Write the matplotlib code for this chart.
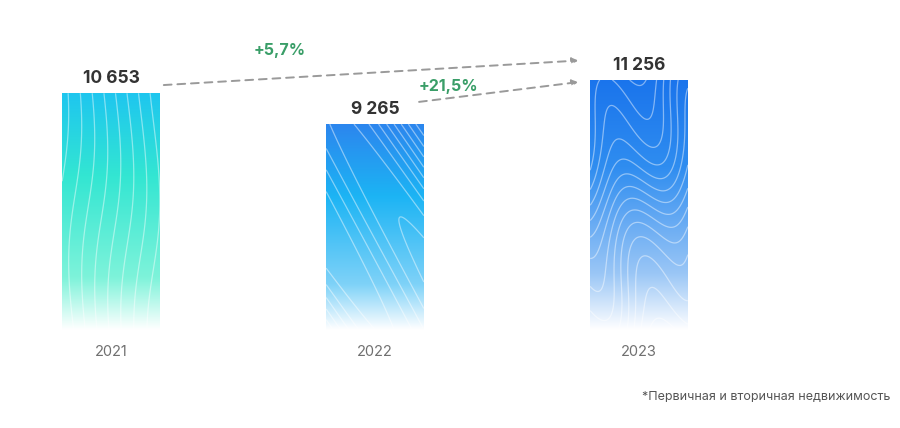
import numpy as np
import matplotlib.pyplot as plt
from matplotlib.colors import LinearSegmentedColormap
from matplotlib.patches import Rectangle

# Данные
years = ["2021", "2022", "2023"]
values = [10653, 9265, 11256]
value_labels = ["10 653", "9 265", "11 256"]
growth_labels = ["+5,7%", "+21,5%"]
footnote = "*Первичная и вторичная недвижимость"

plt.rcParams['font.family'] = ['Inter', 'DejaVu Sans']

fig = plt.figure(figsize=(9, 4.28), dpi=100)
# ось занимает область от верха до базовой линии (~330 px)
ax = fig.add_axes([0, 98 / 428, 1, 330 / 428])
ax.set_xlim(-111 / 264, 789 / 264)
ax.set_ylim(0, 330 * 45)
ax.axis("off")

bar_w = 0.37

# градиенты: сверху вниз
grads = [
    ["#1ec6ef", "#33e6d2", "#7ef3da", "#ffffff"],
    ["#2c86ee", "#1cb4f4", "#7fd2f8", "#ffffff"],
    ["#1a74ec", "#2f8df0", "#9cc7f6", "#ffffff"],
]

for i, (v, g) in enumerate(zip(values, grads)):
    x0, x1 = i - bar_w / 2, i + bar_w / 2
    cmap = LinearSegmentedColormap.from_list(f"g{i}", list(zip([0, 0.35, 0.78, 1.0], g)))
    grad = np.linspace(0, 1, 256).reshape(-1, 1)
    rect = Rectangle((x0, 0), bar_w, v, transform=ax.transData, facecolor="none", edgecolor="none")
    ax.add_patch(rect)
    im = ax.imshow(grad, cmap=cmap, aspect="auto", extent=(x0, x1, 0, v),
                   origin="upper", interpolation="bicubic", zorder=1)
    im.set_clip_path(rect)

    # декоративные белые "топографические" линии
    xx, yy = np.meshgrid(np.linspace(x0, x1, 120), np.linspace(0, v, 200))
    u = (xx - x0) / bar_w
    t = yy / v
    if i == 0:
        z = u * 6 + 0.4 * np.sin(t * 5 + u * 2)
        lv = 9
    elif i == 1:
        z = 3 * np.sin(u * 3 + t * 4) + 4 * t + 2 * u
        lv = 9
    else:
        z = 7 * t - 2.5 * u + 0.9 * np.sin(u * 7 + t * 4) + 0.5 * np.cos(t * 9)
        lv = 13
    cs = ax.contour(xx, yy, z, levels=lv, colors="white", linewidths=0.9,
                    linestyles="solid", negative_linestyles="solid",
                    alpha=0.45, zorder=2)
    cs.set_clip_path(rect)

    ax.text(i, v + 260, value_labels[i], ha="center", va="bottom", fontsize=12.5,
            fontweight="bold", color="#333333")
    ax.text(i, -22 * 45, years[i], ha="center", va="center", fontsize=10.5,
            color="#707070")

# стрелки роста
arrow_kw = dict(arrowstyle="-|>", linestyle=(0, (4, 3)), color="#9a9a9a",
                lw=1.4, mutation_scale=9, shrinkA=0, shrinkB=0)
ax.annotate("", xy=(1.77, values[2] + 870), xytext=(0.2, values[0] + 370),
            arrowprops=arrow_kw)
ax.annotate("", xy=(1.77, values[2] - 100), xytext=(1.167, values[1] + 1000),
            arrowprops=arrow_kw)

ax.text(0.64, 12600, growth_labels[0], ha="center", va="center", fontsize=11.5,
        fontweight="bold", color="#3a9e68")
ax.text(1.28, 10950, growth_labels[1], ha="center", va="center", fontsize=11.5,
        fontweight="bold", color="#3a9e68")

fig.text(890 / 900, 1 - 397 / 428, footnote, ha="right", va="center",
         fontsize=9, color="#555555")

fig.savefig("out.png", dpi=100, facecolor="white")
